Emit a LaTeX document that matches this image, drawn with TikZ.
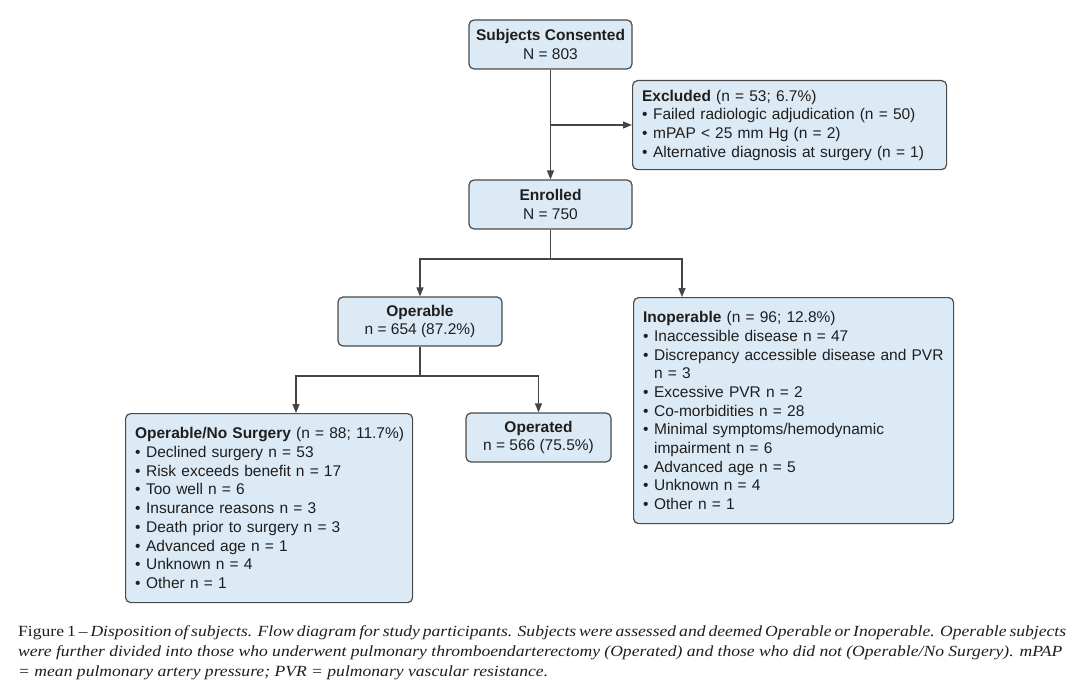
\documentclass[tikz,border=0pt]{standalone}
\usepackage{fontspec}
\setmainfont{Liberation Serif}
\setsansfont{Liberation Sans}
\newfontfamily\capfont{Liberation Serif}[FakeStretch=1.135]
\usetikzlibrary{arrows.meta}
\definecolor{boxfill}{HTML}{DCEAF5}
\definecolor{boxline}{HTML}{4A4A4A}
\definecolor{linecol}{HTML}{454545}
\definecolor{txt}{HTML}{1E1E1E}
\newcommand{\bu}{\makebox[11pt][l]{•}}
\newcommand{\ci}{\makebox[11pt][l]{}}
\begin{document}
\begin{tikzpicture}[x=1pt,y=-1pt,
  box/.style={draw=boxline, fill=boxfill, line width=1.2pt, rounded corners=5pt,
    font=\sffamily\fontsize{15.5}{18.7}\selectfont, text=txt},
  cbox/.style={box, align=center, inner sep=0pt},
  lbox/.style={box, align=left, inner xsep=9.5pt, inner ysep=0pt, anchor=north west},
  conn/.style={draw=linecol, line width=1.3pt},
  arr/.style={conn, -{Triangle[length=9pt,width=7pt]}},
  captext/.style={anchor=base west, inner sep=0pt, font=\capfont\fontsize{15.5}{20}\selectfont, text=txt}]
\useasboundingbox[fill=white] (0,0) rectangle (1080,693);

% boxes
\node[cbox, minimum width=163pt, minimum height=49pt] (sc) at (550.5,44.5)
  {\textbf{Subjects Consented}\\N = 803};
\node[lbox, text width=295pt, minimum height=89pt] (ex) at (632,80)
  {\textbf{Excluded} (n = 53; 6.7\%)\\
   \bu Failed radiologic adjudication (n = 50)\\
   \bu mPAP < 25 mm Hg (n = 2)\\
   \bu Alternative diagnosis at surgery (n = 1)};
\node[cbox, minimum width=163pt, minimum height=49pt] (en) at (550.5,204.5)
  {\textbf{Enrolled}\\N = 750};
\node[cbox, minimum width=164pt, minimum height=49pt] (op) at (420,321.5)
  {\textbf{Operable}\\n = 654 (87.2\%)};
\node[lbox, text width=301pt, minimum height=226pt] (in) at (633,297)
  {\textbf{Inoperable} (n = 96; 12.8\%)\\
   \bu Inaccessible disease n = 47\\
   \bu Discrepancy accessible disease and PVR\\
   \ci n = 3\\
   \bu Excessive PVR n = 2\\
   \bu Co-morbidities n = 28\\
   \bu Minimal symptoms/hemodynamic\\
   \ci impairment n = 6\\
   \bu Advanced age n = 5\\
   \bu Unknown n = 4\\
   \bu Other n = 1};
\node[lbox, text width=268pt, minimum height=189pt] (ns) at (125,413)
  {\mbox{\textbf{Operable/No Surgery} (n = 88; 11.7\%)}\\
   \bu Declined surgery n = 53\\
   \bu Risk exceeds benefit n = 17\\
   \bu Too well n = 6\\
   \bu Insurance reasons n = 3\\
   \bu Death prior to surgery n = 3\\
   \bu Advanced age n = 1\\
   \bu Unknown n = 4\\
   \bu Other n = 1};
\node[cbox, minimum width=145pt, minimum height=49pt] (od) at (538.5,437.5)
  {\textbf{Operated}\\n = 566 (75.5\%)};

% junction coordinates
\coordinate (j1) at (550.5,125);
\coordinate (j2) at (550.5,259);
\coordinate (inN) at (682,297);
\coordinate (j3) at (420,376);
\coordinate (nsN) at (296,413);

% connectors
\draw[arr] (sc.south) -- (en.north);
\draw[arr] (j1) -- (j1 -| ex.west);
\draw[conn] (en.south) -- (j2);
\draw[arr] (j2) -| (op.north);
\draw[arr] (j2) -| (inN);
\draw[conn] (op.south) -- (j3);
\draw[arr] (j3) -| (nsN);
\draw[arr] (j3) -| (od.north);

% caption
\node[captext] (c1) at (18,636) {\makebox[1044pt][s]{Figure 1 – \itshape Disposition of subjects. Flow diagram for study participants. Subjects were assessed and deemed Operable or Inoperable. Operable subjects}};
\node[captext] (c2) at (18,656) {\makebox[1044pt][s]{\itshape were further divided into those who underwent pulmonary thromboendarterectomy (Operated) and those who did not (Operable/No Surgery). mPAP}};
\node[captext] (c3) at (18,676) {\itshape = mean pulmonary artery pressure; PVR = pulmonary vascular resistance.};
\end{tikzpicture}
\end{document}
